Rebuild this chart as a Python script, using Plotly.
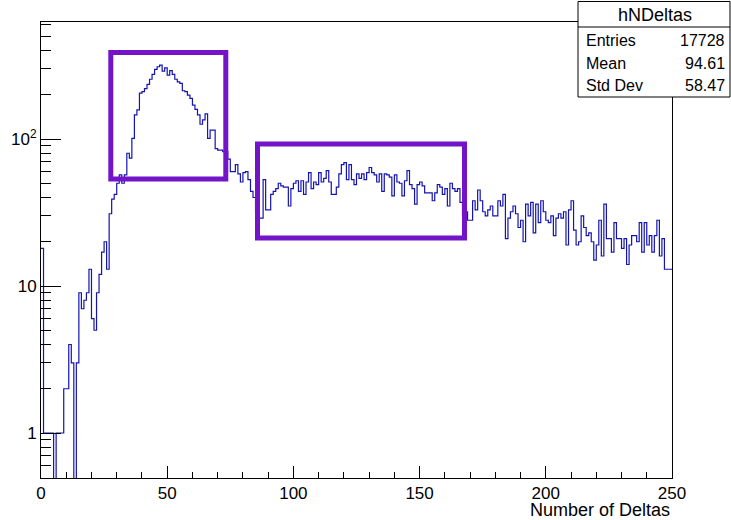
import plotly.graph_objects as go

# ---------------- data ----------------
bin_edges = list(range(0, 251))          # 250 bins of width 1, 0..250
counts = [
    18, 1, 1, 1, 1, 0, 1, 1, 1, 2,
    2, 4, 3, 0, 3, 9, 7, 8, 9, 13,
    6, 5, 9, 12, 17, 20, 13, 31, 39, 42,
    50, 57, 50, 57, 80, 74, 101, 146, 158, 205,
    210, 220, 235, 255, 275, 298, 310, 318, 290, 305,
    272, 292, 275, 255, 245, 239, 213, 210, 199, 189,
    170, 159, 146, 126, 135, 148, 101, 115, 115, 86,
    84, 84, 82, 82, 73, 60, 60, 67, 58, 51,
    59, 60, 53, 44, 40, 32, 29, 29, 53, 33,
    33, 42, 44, 46, 50, 48, 47, 47, 35, 46,
    50, 52, 44, 52, 42, 51, 59, 46, 51, 49,
    59, 51, 54, 61, 51, 42, 42, 47, 58, 67,
    69, 53, 67, 53, 49, 58, 54, 58, 53, 59,
    64, 59, 57, 51, 58, 44, 58, 57, 55, 41,
    57, 51, 50, 41, 52, 61, 49, 46, 36, 49,
    51, 48, 43, 43, 43, 38, 43, 49, 47, 42,
    46, 35, 50, 46, 44, 46, 37, 30, 32, 28,
    28, 38, 33, 45, 38, 32, 30, 33, 35, 30,
    30, 38, 35, 42, 21, 29, 32, 35, 31, 25,
    28, 20, 36, 30, 37, 23, 36, 27, 38, 32,
    28, 27, 30, 22, 29, 31, 29, 32, 19, 33,
    38, 24, 19, 20, 30, 25, 22, 23, 20, 15,
    19, 28, 16, 36, 21, 21, 17, 27, 21, 21,
    18, 21, 14, 19, 22, 22, 20, 27, 17, 27,
    19, 22, 17, 22, 28, 16, 21, 13, 13, 13,
]
x_tick_vals = [0, 50, 100, 150, 200, 250]
x_tick_text = ["0", "50", "100", "150", "200", "250"]
y_tick_vals = [1, 10, 100]
y_tick_text = ["1", "10", "10<sup>2</sup>"]
hist_name = "hNDeltas"
stat_labels = ["Entries", "Mean", "Std Dev"]
stat_values = ["17728", "94.61", "58.47"]
x_title = "Number of Deltas"

# ---------------- geometry ----------------
W, H = 731, 520
PL, PR, PT, PB = 41, 672, 22, 478   # plot area in pixels
Y_BOTTOM_EXP = (433 - PB) / 147.0
Y_TOP_EXP = (433 - PT) / 147.0

def xp(px):
    return (px - PL) / (PR - PL)

def yp(py):
    return (PB - py) / (PB - PT)

FONT = "Liberation Sans, Arial, Helvetica, sans-serif"
LINE_BLUE = "#1414b0"
PURPLE = "#7314c9"

# zero bins are drawn down to the bottom of the frame (as ROOT does)
floor_val = 10 ** (Y_BOTTOM_EXP - 1)
plot_counts = [c if c > 0 else floor_val for c in counts]
y_step = plot_counts + [plot_counts[-1]]

fig = go.Figure()
fig.add_trace(go.Scatter(
    x=bin_edges, y=y_step, mode="lines", line_shape="hv",
    line=dict(color=LINE_BLUE, width=1.2), hoverinfo="skip", showlegend=False,
))

minor_x = [v for v in range(10, 250, 10) if v % 50 != 0]
minor_y = [m * 10 ** e for e in range(0, 3) for m in range(2, 10)]
minor_y = [v for v in minor_y if v <= 10 ** Y_TOP_EXP] + [0.5, 0.6, 0.7, 0.8, 0.9]

fig.update_layout(
    width=W, height=H,
    margin=dict(l=PL, r=W - PR, t=PT, b=H - PB, pad=0),
    paper_bgcolor="white", plot_bgcolor="white",
    font=dict(family=FONT, color="black"),
    xaxis=dict(
        range=[0, 250], showgrid=False, zeroline=False,
        showline=True, linecolor="black", linewidth=1, mirror=True,
        ticks="inside", tickvals=x_tick_vals, ticktext=x_tick_text,
        ticklen=12, tickwidth=1, tickcolor="black",
        minor=dict(ticks="inside", ticklen=6, tickwidth=1, tickcolor="black", tickvals=minor_x),
        tickfont=dict(size=17, family=FONT),
    ),
    yaxis=dict(
        type="log", range=[Y_BOTTOM_EXP, Y_TOP_EXP], showgrid=False, zeroline=False,
        showline=True, linecolor="black", linewidth=1, mirror=True,
        ticks="inside", tickvals=y_tick_vals, ticktext=y_tick_text,
        ticklen=20, tickwidth=1, tickcolor="black",
        minor=dict(ticks="inside", ticklen=10, tickwidth=1, tickcolor="black", tickvals=minor_y),
        tickfont=dict(size=17, family=FONT),
    ),
)

# x-axis title, right aligned (ROOT style)
fig.add_annotation(xref="paper", yref="paper", x=1.0, y=yp(510), xanchor="right", yanchor="middle",
                   text=x_title, showarrow=False, font=dict(size=18, family=FONT))

# highlight boxes
for (x0, y0, x1, y1) in [(110.8, 52.5, 225.8, 179), (257.5, 144, 464.5, 238)]:
    fig.add_shape(type="rect", xref="paper", yref="paper",
                  x0=xp(x0), x1=xp(x1), y0=yp(y1), y1=yp(y0),
                  line=dict(color=PURPLE, width=5))

# stats box
fig.add_shape(type="rect", xref="paper", yref="paper",
              x0=xp(578), x1=xp(730), y0=yp(97), y1=yp(1.5),
              line=dict(color="black", width=1), fillcolor="white", layer="above")
fig.add_shape(type="line", xref="paper", yref="paper",
              x0=xp(578), x1=xp(730), y0=yp(27), y1=yp(27),
              line=dict(color="black", width=1), layer="above")
fig.add_annotation(xref="paper", yref="paper", x=xp(655), y=yp(15), xanchor="center", yanchor="middle",
                   text=hist_name, showarrow=False, font=dict(size=18, family=FONT))
for i, (lab, val) in enumerate(zip(stat_labels, stat_values)):
    yy = yp(41 + 22 * i)
    fig.add_annotation(xref="paper", yref="paper", x=xp(584), y=yy, xanchor="left", yanchor="middle",
                       text=lab, showarrow=False, font=dict(size=16, family=FONT))
    fig.add_annotation(xref="paper", yref="paper", x=xp(727), y=yy, xanchor="right", yanchor="middle",
                       text=val, showarrow=False, font=dict(size=16, family=FONT))

fig.write_html("out.html", config={"displayModeBar": False},
               post_script="document.body.style.margin='0';document.body.style.overflow='hidden';")
